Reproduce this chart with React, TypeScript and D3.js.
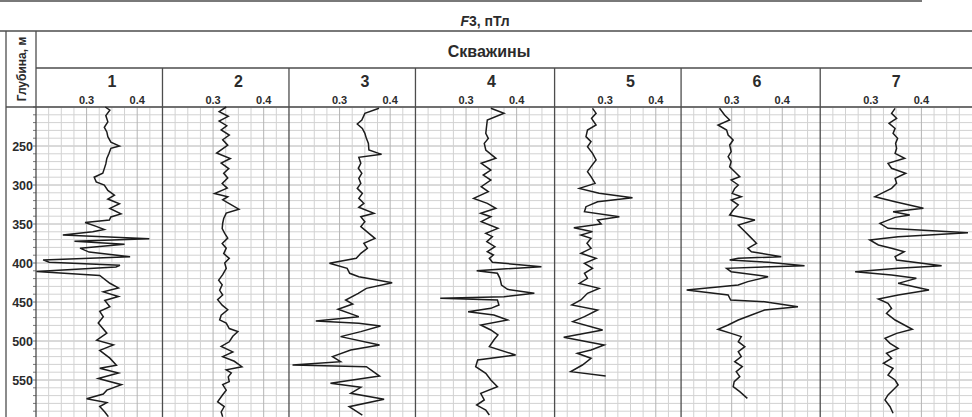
import React, { useEffect, useRef } from 'react';
import * as d3 from 'd3';

const wellNames = ['1', '2', '3', '4', '5', '6', '7'];
const trackMax = [0.45, 0.45, 0.45, 0.475, 0.45, 0.475, 0.5];
const valueTicks = [0.3, 0.4];
const depthTicks = [250, 300, 350, 400, 450, 500, 550];

// [depth, F3]
const well1: [number, number][] = [
  [200, 0.337], [204, 0.346], [211, 0.338], [219, 0.342], [226, 0.335], [232, 0.340], [238, 0.342], [245, 0.348],
  [250, 0.365], [253, 0.348], [260, 0.344], [266, 0.340], [273, 0.338], [279, 0.335], [285, 0.332], [290, 0.315],
  [296, 0.319], [300, 0.335], [307, 0.342], [313, 0.355], [318, 0.342], [324, 0.365], [330, 0.346], [337, 0.368],
  [341, 0.348], [345, 0.345], [348, 0.297], [353, 0.319], [357, 0.335], [360, 0.312], [364, 0.253], [369, 0.424],
  [372, 0.276], [376, 0.375], [381, 0.287], [386, 0.305], [392, 0.386], [396, 0.214], [399, 0.226], [403, 0.366],
  [405, 0.358], [411, 0.201], [416, 0.326], [426, 0.346], [432, 0.363], [437, 0.333], [443, 0.363], [448, 0.336],
  [456, 0.346], [462, 0.326], [469, 0.333], [477, 0.323], [490, 0.340], [499, 0.320], [505, 0.353], [512, 0.326],
  [522, 0.346], [531, 0.359], [535, 0.326], [541, 0.363], [548, 0.323], [556, 0.369], [563, 0.340], [568, 0.333],
  [574, 0.300], [579, 0.340], [584, 0.326], [591, 0.336], [597, 0.343],
];

const well2: [number, number][] = [
  [200, 0.326], [206, 0.312], [212, 0.330], [218, 0.312], [224, 0.327], [229.5, 0.316], [236, 0.332], [242, 0.319],
  [249, 0.329], [259, 0.307], [266, 0.334], [272, 0.316], [279, 0.331], [285, 0.321], [291, 0.329], [298, 0.318],
  [304, 0.328], [311, 0.303], [315, 0.329], [319, 0.319], [324, 0.332], [331, 0.351], [336, 0.326], [343, 0.321],
  [349, 0.319], [356, 0.318], [362, 0.323], [368, 0.329], [375, 0.318], [381, 0.326], [388, 0.321], [394, 0.332],
  [400, 0.323], [407, 0.326], [415, 0.319], [422, 0.311], [428, 0.318], [435, 0.313], [441, 0.319], [447, 0.309],
  [454, 0.318], [460, 0.329], [467, 0.316], [473, 0.313], [477, 0.326], [484, 0.332], [488, 0.349], [494, 0.339],
  [501, 0.332], [507, 0.316], [514, 0.339], [520, 0.319], [526, 0.342], [533, 0.357], [537, 0.326], [541, 0.336],
  [546, 0.330], [552, 0.332], [556, 0.319], [563, 0.326], [569, 0.319], [578, 0.309], [584, 0.322], [591, 0.316],
  [597, 0.319],
];

const well3: [number, number][] = [
  [201.7, 0.378], [208.1, 0.350], [216.7, 0.344], [221.8, 0.335], [227.4, 0.345], [233.8, 0.350], [240.2, 0.353],
  [246.6, 0.357], [255.1, 0.358], [260.7, 0.383], [264.5, 0.338], [272.2, 0.342], [278.6, 0.337], [285, 0.344],
  [291.5, 0.338], [297.9, 0.342], [304.3, 0.335], [310.7, 0.345], [317.1, 0.338], [323.5, 0.348], [328.6, 0.338],
  [336.3, 0.368], [340.6, 0.342], [347, 0.350], [353.4, 0.342], [362, 0.358], [368.4, 0.370], [374.8, 0.348],
  [381.2, 0.355], [387.6, 0.342], [394, 0.333], [400.4, 0.280], [406.8, 0.315], [413.2, 0.320], [417.5, 0.338],
  [425.2, 0.404], [432.5, 0.353], [438.9, 0.337], [447.4, 0.312], [452.6, 0.326], [459.4, 0.297], [468.8, 0.338],
  [474.4, 0.253], [477.4, 0.338], [480.8, 0.381], [488, 0.342], [494.4, 0.302], [505.1, 0.379], [511.5, 0.322],
  [520, 0.286], [526.5, 0.302], [530.8, 0.207], [532.9, 0.353], [544.9, 0.379], [554.3, 0.282], [559.4, 0.342],
  [567.1, 0.322], [574.8, 0.388], [584.2, 0.319], [594.9, 0.345],
];

const well4: [number, number][] = [
  [201.7, 0.349], [208.1, 0.375], [216.7, 0.342], [233.8, 0.339], [240.2, 0.344], [246.6, 0.336], [255.1, 0.339],
  [265.8, 0.359], [272.2, 0.330], [280.8, 0.349], [287.2, 0.334], [293.6, 0.349], [302.1, 0.330], [308.5, 0.344],
  [317.1, 0.315], [323.5, 0.342], [329.9, 0.359], [336.3, 0.329], [340.6, 0.349], [347, 0.330], [355.6, 0.363],
  [362, 0.339], [366.2, 0.352], [372.6, 0.341], [379.1, 0.357], [385.5, 0.342], [389.7, 0.354], [394, 0.346],
  [399.1, 0.352], [404.7, 0.449], [409.8, 0.321], [413.2, 0.362], [419.7, 0.367], [428.2, 0.370], [433.8, 0.382],
  [438.9, 0.435], [443.2, 0.375], [445.3, 0.249], [447.4, 0.362], [453.8, 0.365], [458.1, 0.349], [462.4, 0.304],
  [466.7, 0.355], [473.1, 0.382], [479.5, 0.329], [485.9, 0.349], [492.3, 0.363], [498.7, 0.355], [507.3, 0.346],
  [517.9, 0.398], [524.4, 0.323], [532.9, 0.319], [541.5, 0.339], [550, 0.349], [558.5, 0.362], [567.1, 0.329],
  [575.6, 0.336], [582.1, 0.321], [588.5, 0.339], [594.9, 0.346],
];

const well5: [number, number][] = [
  [201.7, 0.275], [208.1, 0.282], [214.5, 0.273], [223.1, 0.282], [229.5, 0.265], [238, 0.262], [244.4, 0.272],
  [250.9, 0.265], [259.4, 0.275], [267.9, 0.282], [276.5, 0.272], [282.9, 0.265], [289.3, 0.272], [297.9, 0.280],
  [304.3, 0.249], [310.7, 0.288], [316.2, 0.354], [321.4, 0.285], [327.8, 0.262], [334.2, 0.259], [340.6, 0.328],
  [344.9, 0.285], [350, 0.292], [354.7, 0.238], [359.8, 0.275], [364.1, 0.252], [368.4, 0.272], [374.8, 0.264],
  [381.2, 0.272], [387.6, 0.252], [394, 0.282], [400.4, 0.259], [406.8, 0.275], [413.2, 0.259], [419.7, 0.265],
  [426.1, 0.249], [432.5, 0.288], [438.9, 0.265], [447.4, 0.252], [453.8, 0.234], [460.3, 0.285], [468.8, 0.259],
  [475.2, 0.236], [485.9, 0.295], [495.3, 0.218], [505.1, 0.298], [511.5, 0.272], [515.8, 0.245], [522.2, 0.272],
  [530.8, 0.255], [539.3, 0.232], [544.9, 0.301],
];

const well6: [number, number][] = [
  [201.7, 0.276], [210.3, 0.286], [216.7, 0.296], [223.1, 0.273], [229.5, 0.290], [235.9, 0.293], [242.3, 0.303],
  [248.7, 0.296], [257.3, 0.299], [263.7, 0.293], [270.1, 0.299], [276.5, 0.296], [282.9, 0.306], [289.3, 0.316],
  [293.6, 0.299], [300, 0.313], [304.3, 0.306], [310.7, 0.301], [315, 0.319], [319.2, 0.299], [325.6, 0.313],
  [332, 0.303], [338.5, 0.296], [344.9, 0.346], [351.3, 0.313], [357.7, 0.323], [366.2, 0.336], [374.8, 0.349],
  [381.2, 0.332], [385.5, 0.339], [391.9, 0.398], [394, 0.313], [396.2, 0.296], [399.1, 0.372], [403.4, 0.444],
  [406.8, 0.290], [411.1, 0.299], [417.5, 0.372], [423.9, 0.332], [428.2, 0.313], [434.6, 0.211], [441, 0.293],
  [447.4, 0.298], [449.6, 0.365], [456, 0.431], [460.3, 0.365], [466.7, 0.339], [473.1, 0.313], [479.5, 0.293],
  [485, 0.273], [490.2, 0.299], [494.4, 0.319], [500.9, 0.313], [507.3, 0.326], [513.7, 0.313], [520.1, 0.319],
  [526.5, 0.306], [532.9, 0.321], [539.3, 0.309], [545.7, 0.316], [552.1, 0.305], [558.5, 0.303], [565, 0.316],
  [573.5, 0.331],
];

const well7: [number, number][] = [
  [201.7, 0.348], [208.1, 0.341], [214.5, 0.351], [220.9, 0.336], [227.4, 0.348], [233.8, 0.344], [240.2, 0.353],
  [246.6, 0.349], [253, 0.351], [259.4, 0.348], [265.8, 0.367], [272.2, 0.334], [278.6, 0.341], [285, 0.369],
  [291.5, 0.348], [297.9, 0.351], [304.3, 0.341], [315, 0.308], [321.4, 0.348], [329.9, 0.404], [334.2, 0.344],
  [338.5, 0.377], [341.5, 0.348], [349.1, 0.318], [355.6, 0.334], [361.1, 0.492], [366.2, 0.354], [370.5, 0.298],
  [376.9, 0.315], [381.2, 0.341], [385.5, 0.366], [391.9, 0.348], [396.2, 0.351], [403.4, 0.440], [406.8, 0.354],
  [411.1, 0.269], [415.4, 0.341], [419.7, 0.390], [426.1, 0.354], [434.6, 0.415], [441, 0.354], [446.2, 0.315],
  [451.7, 0.334], [458.1, 0.341], [464.5, 0.331], [473.1, 0.348], [485, 0.382], [490.2, 0.351], [496.6, 0.328],
  [503, 0.338], [509.4, 0.354], [515.8, 0.331], [522.2, 0.341], [528.6, 0.325], [535, 0.344], [543.6, 0.334],
  [550, 0.348], [556.4, 0.354], [562.8, 0.344], [569.2, 0.334], [575.6, 0.328], [584.2, 0.338], [592.7, 0.344],
];

const wells = [well1, well2, well3, well4, well5, well6, well7];

const FONT = '"Liberation Sans", Arial, sans-serif';

export default function App() {
  const svgRef = useRef<SVGSVGElement>(null);

  useEffect(() => {
    if (!svgRef.current) return;
    const svg = d3.select(svgRef.current);
    svg.selectAll('*').remove();

    const width = 972;
    const left = 36;
    const headTop = 31;
    const wellTop = 68;
    const dataTop = 107;
    const bottom = 417;

    const y = d3.scaleLinear().domain([200, 600]).range([dataTop, dataTop + 312]);

    // tracks share one px-per-unit, widths follow their value ranges
    const spans = trackMax.map(m => m - 0.2);
    const pxPerUnit = (width - left) / d3.sum(spans);
    let acc = left;
    const xs = trackMax.map((m, i) => {
      const s = d3.scaleLinear().domain([0.2, m]).range([acc, acc + spans[i] * pxPerUnit]);
      acc += spans[i] * pxPerUnit;
      return s;
    });

    svg.append('rect').attr('width', width).attr('height', bottom).attr('fill', '#fff');

    // Grid
    const grid = svg.append('g');
    const depthLines = d3.range(200, 601, 10);
    grid.selectAll('.hline')
      .data(depthLines)
      .enter()
      .append('line')
      .attr('x1', left).attr('x2', width)
      .attr('y1', d => y(d)).attr('y2', d => y(d))
      .attr('stroke', d => (d % 50 === 0 ? '#b4b4b4' : '#d2d2d2'))
      .attr('stroke-width', 1);

    xs.forEach((x, i) => {
      const vals = d3.range(0.225, trackMax[i] - 0.001, 0.025);
      grid.selectAll(`.vline${i}`)
        .data(vals)
        .enter()
        .append('line')
        .attr('x1', d => x(d)).attr('x2', d => x(d))
        .attr('y1', dataTop).attr('y2', bottom)
        .attr('stroke', d => (Math.abs(d * 10 - Math.round(d * 10)) < 0.01 ? '#b4b4b4' : '#d2d2d2'))
        .attr('stroke-width', 1);
    });

    // depth ticks on column edge
    grid.selectAll('.dtick')
      .data(depthLines)
      .enter()
      .append('line')
      .attr('x1', left - 3).attr('x2', left)
      .attr('y1', d => y(d)).attr('y2', d => y(d))
      .attr('stroke', '#777');

    // Frame
    const frame = svg.append('g').attr('stroke', '#4d4d4d').attr('stroke-width', 1.3);
    frame.append('line').attr('x1', 0).attr('x2', 922).attr('y1', 1).attr('y2', 1);
    frame.append('line').attr('x1', 0).attr('x2', width).attr('y1', headTop).attr('y2', headTop);
    frame.append('line').attr('x1', left).attr('x2', width).attr('y1', wellTop).attr('y2', wellTop);
    frame.append('line').attr('x1', 6).attr('x2', width).attr('y1', dataTop).attr('y2', dataTop);
    frame.append('line').attr('x1', 6).attr('x2', 6).attr('y1', headTop).attr('y2', bottom);
    frame.append('line').attr('x1', left).attr('x2', left).attr('y1', headTop).attr('y2', bottom);
    frame.selectAll('.sep')
      .data(xs.slice(1))
      .enter()
      .append('line')
      .attr('x1', d => d.range()[0]).attr('x2', d => d.range()[0])
      .attr('y1', wellTop).attr('y2', bottom);

    // Curves
    const line = d3.line<[number, number]>();
    wells.forEach((w, i) => {
      line.x(d => xs[i](d[1])).y(d => y(d[0]));
      svg.append('path')
        .attr('d', line(w) || '')
        .attr('fill', 'none')
        .attr('stroke', '#1c1c1c')
        .attr('stroke-width', 1.5)
        .attr('stroke-linejoin', 'miter');
    });

    // Text
    const txt = svg.append('g').attr('font-family', FONT).attr('font-weight', 'bold').attr('fill', '#2b2b2b');

    const title = txt.append('text').attr('x', 485).attr('y', 26).attr('text-anchor', 'middle').attr('font-size', 14);
    title.append('tspan').attr('font-style', 'italic').text('F');
    title.append('tspan').text('3, пТл');

    txt.append('text').attr('x', 489).attr('y', 56.5).attr('text-anchor', 'middle').attr('font-size', 16).text('Скважины');

    txt.append('text')
      .attr('transform', `translate(26,${(headTop + dataTop) / 2}) rotate(-90)`)
      .attr('text-anchor', 'middle')
      .attr('font-size', 12)
      .text('Глубина, м');

    txt.selectAll('.well')
      .data(wellNames)
      .enter()
      .append('text')
      .attr('x', (d, i) => xs[i](0.35))
      .attr('y', 87)
      .attr('text-anchor', 'middle')
      .attr('font-size', 16)
      .text(d => d);

    xs.forEach(x => {
      txt.selectAll(null)
        .data(valueTicks)
        .enter()
        .append('text')
        .attr('x', d => x(d))
        .attr('y', 103.5)
        .attr('text-anchor', 'middle')
        .attr('font-size', 11)
        .text(d => d.toFixed(1));
    });

    txt.selectAll('.dlab')
      .data(depthTicks)
      .enter()
      .append('text')
      .attr('x', 33)
      .attr('y', d => y(d) + 4.5)
      .attr('text-anchor', 'end')
      .attr('font-size', 12.5)
      .text(d => d);
  }, []);

  return (
    <svg
      ref={svgRef}
      width={972}
      height={417}
      style={{ position: 'absolute', left: 0, top: 0, display: 'block' }}
    />
  );
}
